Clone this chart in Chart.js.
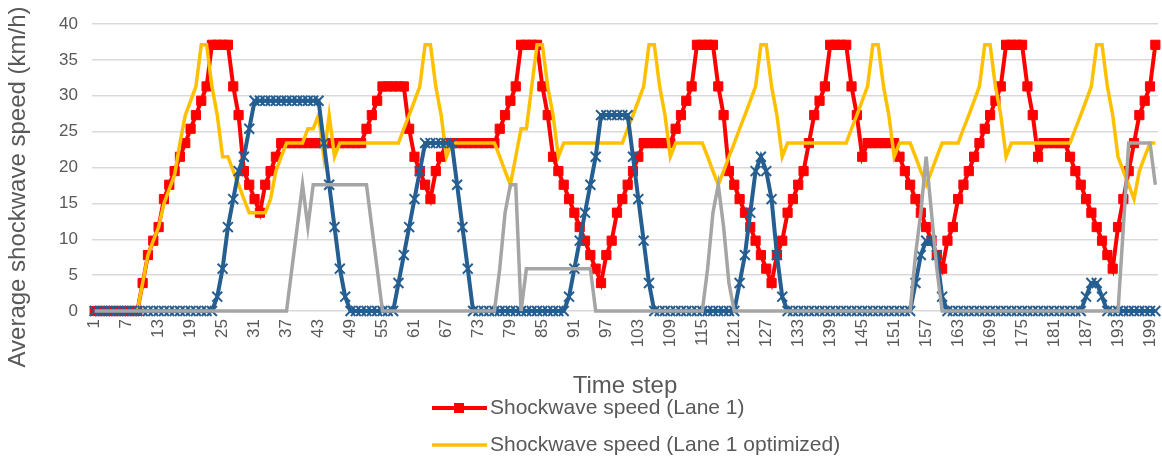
<!DOCTYPE html>
<html>
<head>
<meta charset="utf-8">
<script src="https://cdn.jsdelivr.net/npm/chart.js@4.4.1/dist/chart.umd.min.js"></script>
<style>
html,body{margin:0;padding:0;background:#ffffff;}
#wrap{width:1162px;height:460px;position:relative;}
</style>
</head>
<body>
<div id="wrap"><canvas id="c" width="1162" height="460"></canvas></div>
<script>
// ---- categories & tick labels ----
const timeSteps = Array.from({length: 200}, (_, i) => i + 1);
const xTickLabels = [1,7,13,19,25,31,37,43,49,55,61,67,73,79,85,91,97,103,109,115,121,127,133,139,145,151,157,163,169,175,181,187,193,199];
const yTickValues = [0,5,10,15,20,25,30,35,40];
const xAxisTitle = 'Time step';
const yAxisTitle = 'Average shockwave speed (km/h)';
const seriesNames = ['Shockwave speed (Lane 1)', 'Shockwave speed (Lane 1 optimized)', 'Shockwave speed (Lane 2)', 'Shockwave speed (Lane 2 optimized)'];

// ---- series values ----
const lane1 = [
0,0,0,0,0,0,0,0,0,
3.9,7.8,9.8,11.7,15.6,17.6,19.5,21.5,23.4,25.4,27.3,29.3,31.3,
37.1,37.1,37.1,37.1,
31.3,27.3,19.5,17.6,15.6,13.7,17.6,19.5,21.5,
23.4,23.4,23.4,23.4,23.4,23.4,23.4,23.4,23.4,23.4,23.4,23.4,23.4,23.4,23.4,23.4,
25.4,27.3,29.3,
31.3,31.3,31.3,31.3,31.3,
25.4,21.5,19.5,17.6,15.6,19.5,21.5,
23.4,23.4,23.4,23.4,23.4,23.4,23.4,23.4,23.4,23.4,
25.4,27.3,29.3,31.3,
37.1,37.1,37.1,37.1,
31.3,27.3,21.5,19.5,17.6,15.6,13.7,11.7,9.8,7.8,5.9,3.9,7.8,9.8,13.7,15.6,17.6,19.5,21.5,
23.4,23.4,23.4,23.4,23.4,23.4,
25.4,27.3,29.3,31.3,
37.1,37.1,37.1,37.1,
31.3,27.3,19.5,17.6,15.6,13.7,11.7,9.8,7.8,5.9,3.9,7.8,9.8,13.7,15.6,17.6,19.5,23.4,27.3,29.3,31.3,
37.1,37.1,37.1,37.1,
31.3,27.3,21.5,
23.4,23.4,23.4,23.4,23.4,23.4,
21.5,19.5,17.6,15.6,13.7,11.7,9.8,7.8,5.9,9.8,11.7,15.6,17.6,19.5,21.5,23.4,25.4,27.3,29.3,31.3,
37.1,37.1,37.1,37.1,
31.3,27.3,21.5,
23.4,23.4,23.4,23.4,23.4,
21.5,19.5,17.6,15.6,13.7,11.7,9.8,7.8,5.9,11.7,15.6,19.5,23.4,27.3,29.3,31.3,37.1
];
const lane1Optimized = [
0,0,0,0,0,0,0,0,0,
3.9,7.8,9.8,11.7,15.0,17.0,19.0,23.4,27.3,29.3,31.3,37.1,37.1,31.3,27.3,21.5,21.5,19.5,17.6,15.6,13.7,13.7,13.7,13.7,15.6,19.5,21.5,23.4,23.4,23.4,23.4,25.4,25.4,27.3,21.5,27.3,21.5,
23.4,23.4,23.4,23.4,23.4,23.4,23.4,23.4,23.4,23.4,23.4,23.4,
25.4,27.3,29.3,31.3,37.1,37.1,31.3,27.3,21.5,
23.4,23.4,23.4,23.4,23.4,23.4,23.4,23.4,23.4,
21.5,19.5,17.6,21.5,25.4,25.4,31.3,37.1,37.1,31.3,27.3,21.5,
23.4,23.4,23.4,23.4,23.4,23.4,23.4,23.4,23.4,23.4,23.4,23.4,
25.4,27.3,29.3,31.3,37.1,37.1,31.3,27.3,21.5,
23.4,23.4,23.4,23.4,23.4,23.4,
21.5,19.5,17.6,19.5,21.5,23.4,25.4,27.3,29.3,31.3,37.1,37.1,31.3,27.3,21.5,
23.4,23.4,23.4,23.4,23.4,23.4,23.4,23.4,23.4,23.4,23.4,23.4,
25.4,27.3,29.3,31.3,37.1,37.1,31.3,27.3,21.5,
23.4,23.4,23.4,
21.5,19.5,17.6,19.5,21.5,
23.4,23.4,23.4,23.4,
25.4,27.3,29.3,31.3,37.1,37.1,31.3,27.3,21.5,
23.4,23.4,23.4,23.4,23.4,23.4,23.4,23.4,23.4,23.4,23.4,23.4,
25.4,27.3,29.3,31.3,37.1,37.1,31.3,27.3,21.5,19.5,17.6,15.6,19.5,21.5,23.4,23.4
];
const lane2 = [
0,0,0,0,0,0,0,0,0,0,0,0,0,0,0,0,0,0,0,0,0,0,0,
2.0,5.9,11.7,15.6,19.5,21.5,25.4,
29.3,29.3,29.3,29.3,29.3,29.3,29.3,29.3,29.3,29.3,29.3,29.3,29.3,
23.4,17.6,11.7,5.9,2.0,
0,0,0,0,0,0,0,0,0,
3.9,7.8,11.7,15.6,19.5,
23.4,23.4,23.4,23.4,23.4,23.4,
17.6,11.7,5.9,
0,0,0,0,0,0,0,0,0,0,0,0,0,0,0,0,0,0,
2.0,5.9,9.8,13.7,17.6,21.5,
27.3,27.3,27.3,27.3,27.3,27.3,
21.5,15.6,9.8,3.9,
0,0,0,0,0,0,0,0,0,0,0,0,0,0,0,0,
3.9,7.8,13.7,19.5,21.5,19.5,15.6,7.8,2.0,
0,0,0,0,0,0,0,0,0,0,0,0,0,0,0,0,0,0,0,0,0,0,0,0,
3.9,7.8,9.8,9.8,7.8,2.0,
0,0,0,0,0,0,0,0,0,0,0,0,0,0,0,0,0,0,0,0,0,0,0,0,0,0,
2.0,3.9,3.9,2.0,
0,0,0,0,0,0,0,0,0,0
];
const lane2Optimized = [
0,0,0,0,0,0,0,0,0,0,0,0,0,0,0,0,0,0,0,0,0,0,0,0,0,0,0,0,0,0,0,0,0,0,0,0,0,
5.9,11.7,17.6,11.7,
17.6,17.6,17.6,17.6,17.6,17.6,17.6,17.6,17.6,17.6,17.6,
11.7,5.9,
0,0,0,0,0,0,0,0,0,0,0,0,0,0,0,0,0,0,0,0,0,0,
5.9,13.7,17.6,17.6,0,
5.9,5.9,5.9,5.9,5.9,5.9,5.9,5.9,5.9,5.9,5.9,5.9,5.9,
0,0,0,0,0,0,0,0,0,0,0,0,0,0,0,0,0,0,0,0,0,
5.9,13.7,17.6,11.7,3.9,
0,0,0,0,0,0,0,0,0,0,0,0,0,0,0,0,0,0,0,0,0,0,0,0,0,0,0,0,0,0,0,0,0,0,
7.8,13.7,21.5,13.7,5.9,
0,0,0,0,0,0,0,0,0,0,0,0,0,0,0,0,0,0,0,0,0,0,0,0,0,0,0,0,0,0,0,0,0,0,
11.7,
23.4,23.4,23.4,23.4,23.4,
17.6
];

const fontFam = "'Liberation Sans', 'DejaVu Sans', sans-serif";
const textColor = '#595959';

const overlayPlugin = {
  id: 'overlay',
  afterDraw(chart) {
    const ctx = chart.ctx;
    ctx.save();
    // y axis title
    ctx.fillStyle = textColor;
    ctx.font = '24px ' + fontFam;
    ctx.textAlign = 'center';
    ctx.textBaseline = 'middle';
    ctx.translate(18, 187);
    ctx.rotate(-Math.PI / 2);
    ctx.fillText(yAxisTitle, 0, 0);
    ctx.restore();

    // legend (only the first two entries fit in the picture)
    const ds = chart.data.datasets;
    const rows = [408, 445];
    ctx.save();
    for (let k = 0; k < 2; k++) {
      const y = rows[k];
      const d = ds[k];
      ctx.strokeStyle = d.borderColor;
      ctx.lineWidth = d.borderWidth;
      ctx.beginPath();
      ctx.moveTo(432, y);
      ctx.lineTo(487, y);
      ctx.stroke();
      if (d.pointStyle === 'rect') {
        ctx.fillStyle = d.borderColor;
        ctx.fillRect(459 - 5, y - 5, 10, 10);
      }
      ctx.fillStyle = textColor;
      ctx.font = '21px ' + fontFam;
      ctx.textAlign = 'left';
      ctx.textBaseline = 'middle';
      ctx.fillText(d.label, 490, y);
    }
    ctx.restore();
  }
};

new Chart(document.getElementById('c'), {
  type: 'line',
  data: {
    labels: timeSteps,
    datasets: [
      { label: seriesNames[0], data: lane1, borderColor: '#ff0000', backgroundColor: '#ff0000',
        borderWidth: 4, pointStyle: 'rect', pointRadius: 6.5, pointBorderWidth: 1,
        pointBackgroundColor: '#ff0000', pointBorderColor: '#ff0000', order: 4, clip: 12 },
      { label: seriesNames[1], data: lane1Optimized, borderColor: '#ffc000', backgroundColor: '#ffc000',
        borderWidth: 3.5, pointRadius: 0, order: 3, clip: 12 },
      { label: seriesNames[2], data: lane2, borderColor: '#255e91', backgroundColor: '#255e91',
        borderWidth: 4, pointStyle: 'crossRot', pointRadius: 7, pointBorderWidth: 2,
        pointBorderColor: '#255e91', order: 2, clip: 12 },
      { label: seriesNames[3], data: lane2Optimized, borderColor: '#a5a5a5', backgroundColor: '#a5a5a5',
        borderWidth: 3.5, pointRadius: 0, order: 1, clip: 12 }
    ]
  },
  options: {
    responsive: false,
    animation: false,
    devicePixelRatio: 1,
    layout: { autoPadding: false, padding: { left: 0, right: 4, top: 24, bottom: 59 } },
    plugins: { legend: { display: false }, tooltip: { enabled: false } },
    elements: { line: { tension: 0 } },
    scales: {
      x: {
        type: 'category',
        offset: true,
        grid: { display: false, drawTicks: false },
        border: { display: false },
        ticks: {
          autoSkip: false, maxRotation: 90, minRotation: 90, padding: 8,
          color: textColor, font: { family: fontFam, size: 17 },
          callback: function (value) {
            const lab = this.getLabelForValue(value);
            return xTickLabels.includes(lab) ? String(lab) : null;
          }
        },
        title: { display: true, text: xAxisTitle, color: textColor,
                 font: { family: fontFam, size: 24 }, padding: { top: 0, bottom: 0 } },
        afterFit: (s) => { s.height = 90; s.paddingLeft = 0; s.paddingRight = 0; }
      },
      y: {
        min: 0, max: 40,
        grid: { color: '#d9d9d9', lineWidth: 1.5, drawTicks: false },
        border: { display: false },
        ticks: {
          stepSize: 5, padding: 14, color: textColor, font: { family: fontFam, size: 17 },
          callback: (v) => yTickValues.includes(v) ? String(v) : null
        },
        afterFit: (s) => { s.width = 92; s.paddingTop = 0; s.paddingBottom = 0; }
      }
    }
  },
  plugins: [overlayPlugin]
});
</script>
</body>
</html>
